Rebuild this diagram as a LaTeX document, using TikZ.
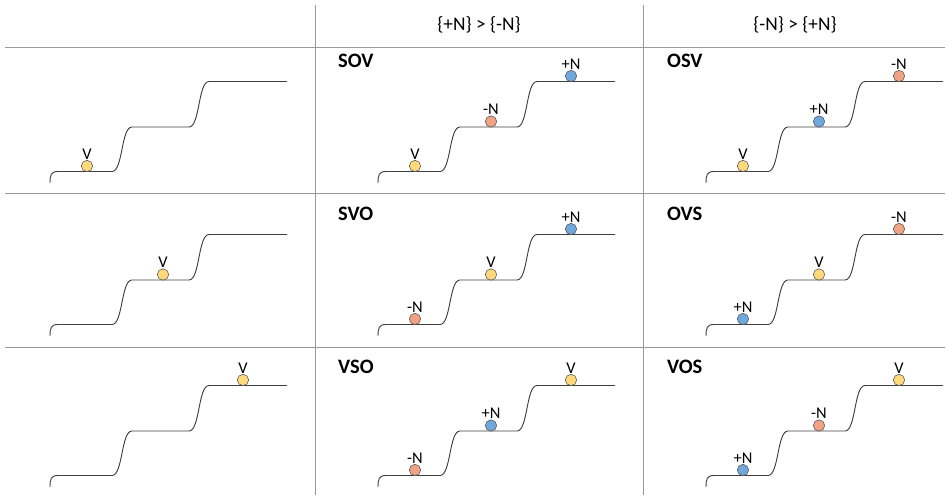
\documentclass[tikz,border=0pt]{standalone}
\usepackage{fontspec}
\setmainfont{Carlito}
\usepackage{xcolor}
\usepackage{tikz}
\usetikzlibrary{positioning}
\definecolor{verbc}{HTML}{FFD97A}
\definecolor{negc}{HTML}{F2A284}
\definecolor{posc}{HTML}{6FA8DC}
\tikzset{
  grid/.style={draw=black!40, line width=0.8pt},
  stairline/.style={draw=black!75, line width=0.8pt},
  dot/.style={circle, draw=black!65, line width=0.5pt, minimum size=3.4mm, inner sep=0pt},
  verbdot/.style={dot, fill=verbc},
  negdot/.style={dot, fill=negc},
  posdot/.style={dot, fill=posc},
  tag/.style={inner sep=0.5pt, font=\fontsize{14}{15}\selectfont},
  head/.style={font=\fontsize{16.5}{18}\selectfont},
  order/.style={anchor=west, font=\fontsize{17.5}{19}\selectfont\bfseries},
  stairs/.pic={
    \draw[stairline] (50,183) .. controls (50,175) and (51,171.5) .. (58,171.5)
      -- (112,171.5) .. controls (123,171.5) and (121,127) .. (132,127)
      -- (189,127) .. controls (200,127) and (198,81.5) .. (209,81.5)
      -- (287,81.5);
  }
}
% dot with its label above
\newcommand{\word}[5]{%
  \node[#2] (#1) at (#3,#4) {};
  \node[tag, above=0pt of #1] (#1-t) {#5};}

\begin{document}
\begin{tikzpicture}[x=0.3mm, y=-0.3mm]
  \useasboundingbox (0,0) rectangle (947,498);
  % table
  \draw[grid] (5,47) -- (945,47);
  \draw[grid] (5,193) -- (945,193);
  \draw[grid] (5,347) -- (945,347);
  \draw[grid] (315,5) -- (315,495);
  \draw[grid] (643,5) -- (643,495);
  \node[head] (h1) at (479,25) {\{+N\} > \{-N\}};
  \node[head] (h2) at (795,25) {\{-N\} > \{+N\}};
  % staircases
  \pic at (0,0) {stairs};
  \pic at (0,153) {stairs};
  \pic at (0,304) {stairs};
  \pic at (328,0) {stairs};
  \pic at (328,153) {stairs};
  \pic at (328,304) {stairs};
  \pic at (656,0) {stairs};
  \pic at (656,153) {stairs};
  \pic at (656,304) {stairs};
  % orders
  \node[order] (sov) at (334,61) {SOV};
  \node[order] (osv) at (663,61) {OSV};
  \node[order] (svo) at (334,214) {SVO};
  \node[order] (ovs) at (663,214) {OVS};
  \node[order] (vso) at (334,367) {VSO};
  \node[order] (vos) at (663,367) {VOS};
  % first column
  \word{v1}{verbdot}{87}{166}{V}
  \word{v2}{verbdot}{163}{274.5}{V}
  \word{v3}{verbdot}{243}{380}{V}
  % SOV
  \word{sov-v}{verbdot}{415}{166}{V}
  \word{sov-n}{negdot}{491}{121.5}{-N}
  \word{sov-p}{posdot}{571}{76}{+N}
  % OSV
  \word{osv-v}{verbdot}{743}{166}{V}
  \word{osv-p}{posdot}{819}{121.5}{+N}
  \word{osv-n}{negdot}{899}{76}{-N}
  % SVO
  \word{svo-n}{negdot}{415}{319}{-N}
  \word{svo-v}{verbdot}{491}{274.5}{V}
  \word{svo-p}{posdot}{571}{229}{+N}
  % OVS
  \word{ovs-p}{posdot}{743}{319}{+N}
  \word{ovs-v}{verbdot}{819}{274.5}{V}
  \word{ovs-n}{negdot}{899}{229}{-N}
  % VSO
  \word{vso-n}{negdot}{415}{470}{-N}
  \word{vso-p}{posdot}{491}{425.5}{+N}
  \word{vso-v}{verbdot}{571}{380}{V}
  % VOS
  \word{vos-p}{posdot}{743}{470}{+N}
  \word{vos-n}{negdot}{819}{425.5}{-N}
  \word{vos-v}{verbdot}{899}{380}{V}
\end{tikzpicture}
\end{document}
